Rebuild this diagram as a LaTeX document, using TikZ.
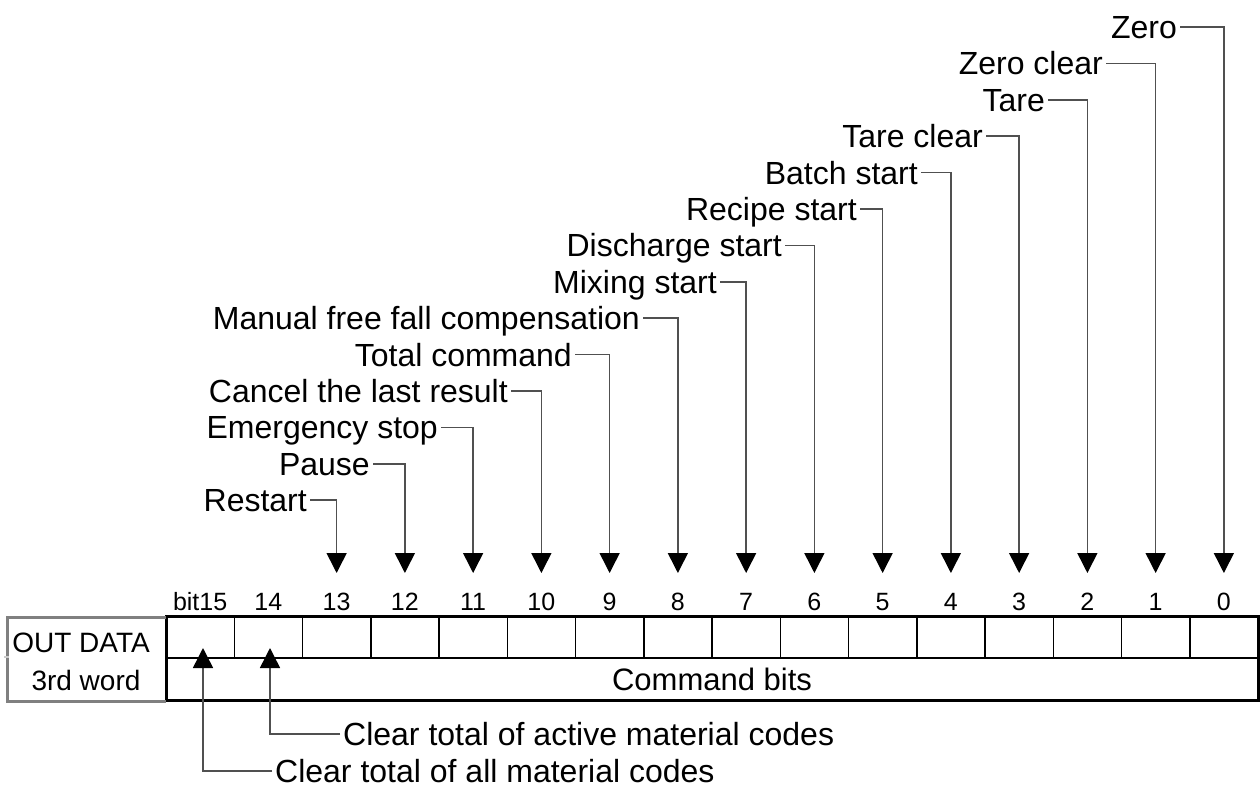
\documentclass[tikz,border=0pt]{standalone}
\usepackage{fontspec}
\setmainfont{Liberation Sans}
\usetikzlibrary{arrows.meta}
\definecolor{linegray}{RGB}{80,80,80}
\definecolor{boxgray}{RGB}{128,128,128}
\begin{document}
\begin{tikzpicture}[x=1pt,y=-1pt,
  lbl/.style={inner sep=0pt, font=\fontsize{32}{38}\selectfont},
  bitnum/.style={inner sep=0pt, anchor=base, font=\fontsize{25}{30}\selectfont},
  conn/.style={draw=linegray, line width=1.5pt},
  downarrow/.style={conn, -{Triangle[length=20pt,width=20pt,color=black]}},
  cell/.style={draw=black, line width=1.5pt, minimum width=68.25pt, minimum height=42pt, inner sep=0pt, outer sep=0pt},
]
\useasboundingbox (0,0) rectangle (1260,790);

% labels and connectors to the bits
\foreach \b/\t/\e in {0/Zero/1177, 1/Zero clear/1103, 2/Tare/1045, 3/Tare clear/983,
  4/Batch start/918, 5/Recipe start/857, 6/Discharge start/782, 7/Mixing start/717,
  8/Manual free fall compensation/640, 9/Total command/572, 10/Cancel the last result/508,
  11/Emergency stop/438, 12/Pause/370, 13/Restart/307} {
  \pgfmathsetmacro\xc{166+68.25*(15.5-\b)}
  \pgfmathsetmacro\yl{27+36.4*\b}
  \node[lbl, anchor=base east] (L\b) at (\e, \yl+11.5) {\t};
  \coordinate (T\b) at (\xc, 573);
  \draw[downarrow] ([shift={(3,-11.5)}]L\b.base east) -- (\xc,\yl) -- (T\b);
}

% bit cells and numbers
\foreach \b in {0,...,14} {
  \pgfmathsetmacro\xc{166+68.25*(15.5-\b)}
  \node[cell] (c\b) at (\xc,637) {};
  \node[bitnum] (n\b) at (\xc,610) {\b};
}
\node[cell] (c15) at (200.125,637) {};
\node[bitnum] (n15) at (200.125,610) {bit15};

\node[cell, minimum width=1092pt, font=\fontsize{31}{37}\selectfont] (cmd) at (712,679) {Command bits};
\draw[line width=3pt] (c15.north west) rectangle (cmd.south east);

% left label box
\draw[boxgray, line width=3pt] (166,617) -| (7,701) -- (166,701);
\draw[gray!40, line width=1.5pt] (4,657) -- (9,657);
\node[inner sep=0pt, anchor=base, font=\fontsize{28}{34}\selectfont] (outdata) at (81,652) {OUT DATA};
\node[inner sep=0pt, anchor=base, font=\fontsize{28}{34}\selectfont] (word) at (86,690) {3rd word};

% bottom labels
\node[lbl, anchor=base west] (B14) at (343,745.5) {Clear total of active material codes};
\node[lbl, anchor=base west] (B15) at (275,782.5) {Clear total of all material codes};
\coordinate (U14) at (270,648);
\coordinate (U15) at (203,648);
\draw[downarrow] ([shift={(-3,-11.5)}]B14.base west) -- (270,734) -- (U14);
\draw[downarrow] ([shift={(-3,-11.5)}]B15.base west) -- (203,771) -- (U15);
\end{tikzpicture}
\end{document}
